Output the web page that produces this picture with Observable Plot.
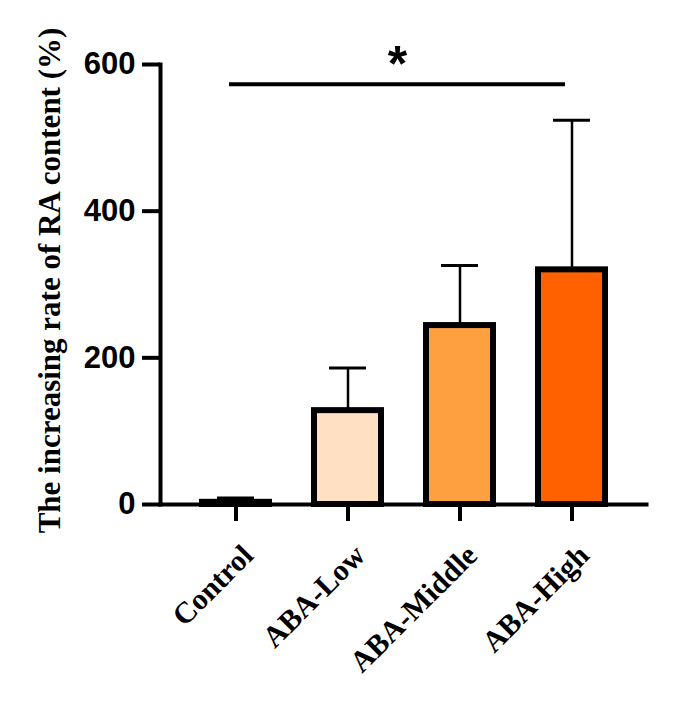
<!DOCTYPE html>
<html>
<head>
<meta charset="utf-8">
<script src="https://cdn.jsdelivr.net/npm/d3@7"></script>
<script src="https://cdn.jsdelivr.net/npm/@observablehq/plot@0.6"></script>
<style>
  html, body { margin: 0; padding: 0; background: #fff; }
</style>
</head>
<body>
<div id="chart"></div>
<script>
const groups = ["Control", "ABA-Low", "ABA-Middle", "ABA-High"];
const means = [3, 128, 244, 320];
const sds = [6, 58, 82, 204];
const colors = ["#FFFFFF", "#FFE0C2", "#FFA040", "#FF6000"];
const yTicks = [0, 200, 400, 600];
const yLabel = "The increasing rate of RA content (%)";
const sigFrom = ["Control"];
const sigTo = ["ABA-High"];
const sigY = [573];
const sigText = ["*"];

const data = groups.map((g, i) => ({group: g, mean: means[i], sd: sds[i], top: means[i] + sds[i], color: colors[i]}));
const sig = sigText.map((t, i) => ({from: sigFrom[i], to: sigTo[i], y: sigY[i], text: t}));

const serif = "'Liberation Serif', 'Times New Roman', serif";
const sans = "'Liberation Sans', Arial, sans-serif";

const chart = Plot.plot({
  width: 676,
  height: 705,
  marginLeft: 160,
  marginRight: 30,
  marginTop: 64,
  marginBottom: 201,
  x: {type: "band", domain: groups, paddingInner: 0.405, paddingOuter: 0.36, axis: null},
  y: {domain: [0, 600], axis: null},
  marks: [
    Plot.ruleX(data, {x: "group", y1: "mean", y2: "top", stroke: "black", strokeWidth: 2.5}),
    Plot.tickY(data, {x: "group", y: "top", stroke: "black", strokeWidth: 3, insetLeft: 15, insetRight: 15}),
    Plot.barY(data, {x: "group", y: "mean", fill: "color", stroke: "black", strokeWidth: 6}),
    Plot.frame({anchor: "left", stroke: "black", strokeWidth: 4}),
    Plot.frame({anchor: "bottom", stroke: "black", strokeWidth: 4}),
    Plot.axisY({ticks: yTicks, tickSize: 18, tickPadding: 7, strokeWidth: 4, fontSize: 31, fontWeight: "bold", fontFamily: sans, fill: "black", label: null}),
    Plot.axisX({tickSize: 17, strokeWidth: 4, tickFormat: () => "", label: null}),
    Plot.text(data, {x: "group", frameAnchor: "bottom", text: "group", rotate: -45, textAnchor: "end", lineAnchor: "middle", dx: 12, dy: 46, fontSize: 30, fontWeight: "bold", fontFamily: serif, fill: "black"}),
    Plot.text([yLabel], {frameAnchor: "left", rotate: -90, textAnchor: "middle", lineAnchor: "middle", dx: -110, dy: -4, fontSize: 31, fontWeight: "bold", fontFamily: serif, fill: "black"}),
    Plot.link(sig, {x1: "from", x2: "to", y1: "y", y2: "y", dx: -7, stroke: "black", strokeWidth: 4}),
    Plot.text(sig, {frameAnchor: "top", text: "text", textAnchor: "middle", lineAnchor: "middle", dx: -6, dy: 0, fontSize: 50, fontWeight: "bold", fontFamily: sans, fill: "black"})
  ]
});
document.getElementById("chart").appendChild(chart);
</script>
</body>
</html>
